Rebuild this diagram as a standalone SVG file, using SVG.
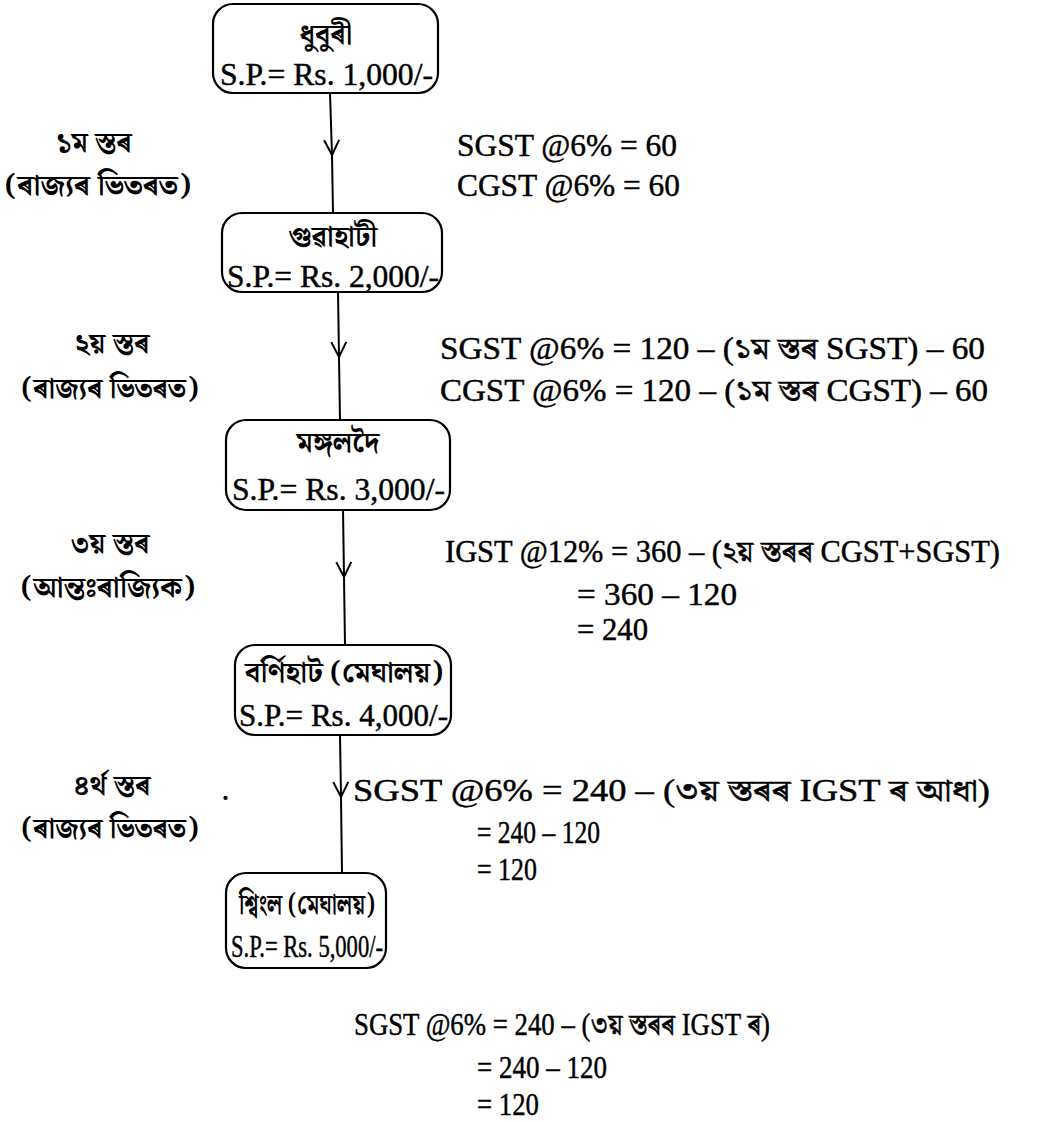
<svg xmlns="http://www.w3.org/2000/svg" width="1038" height="1122" viewBox="0 0 1038 1122">
<defs>
<style>
.bg{fill:#fff}
.box{fill:none;stroke:#000;stroke-width:2.2}
.con{fill:none;stroke:#000;stroke-width:2}
.t{font-family:"Liberation Serif","Noto Serif Bengali","Noto Sans Bengali","Lohit Assamese","Lohit Bengali","FreeSerif",serif;font-size:31px;fill:#000;stroke:#000;stroke-width:0.45}
.c{text-anchor:middle}
.bn{font-family:"Noto Serif Bengali","Noto Sans Bengali","Lohit Assamese","Lohit Bengali","FreeSerif","Liberation Serif",serif;font-size:28px;font-weight:bold;fill:#000}
.nb{font-size:28px}
</style>
<marker id="v" markerWidth="20" markerHeight="20" refX="0" refY="0" orient="auto" markerUnits="userSpaceOnUse" viewBox="-16 -10 20 20" overflow="visible">
<path d="M-15,-7.5 L0,0 L-15,7.5" fill="none" stroke="#000" stroke-width="2"/>
</marker>
</defs>
<rect class="bg" x="0" y="0" width="1038" height="1122"/>
<g id="connectors">
<path class="con" d="M330,93 L332,155 L333,213" marker-mid="url(#v)"/>
<path class="con" d="M338,292 L339,357 L340,420" marker-mid="url(#v)"/>
<path class="con" d="M343,510 L344,577 L345,645" marker-mid="url(#v)"/>
<path class="con" d="M340,735 L341,797 L342,873" marker-mid="url(#v)"/>
</g>
<g id="node1">
<rect class="box" x="213" y="4" width="225" height="89" rx="20"/>
<text class="bn nb c" x="326" y="44">ধুবুৰী</text>
<text class="t" x="220" y="85" textLength="213" lengthAdjust="spacingAndGlyphs">S.P.= Rs. 1,000/-</text>
</g>
<g id="node2">
<rect class="box" x="222" y="213" width="220" height="79" rx="20"/>
<text class="bn nb c" x="333" y="246">গুৱাহাটী</text>
<text class="t" x="227" y="287" textLength="212" lengthAdjust="spacingAndGlyphs">S.P.= Rs. 2,000/-</text>
</g>
<g id="node3">
<rect class="box" x="226" y="420" width="224" height="90" rx="20"/>
<text class="bn nb c" x="338" y="452">মঙ্গলদৈ</text>
<text class="t" x="232" y="500" textLength="213" lengthAdjust="spacingAndGlyphs">S.P.= Rs. 3,000/-</text>
</g>
<g id="node4">
<rect class="box" x="235" y="645" width="216" height="90" rx="20"/>
<text class="bn nb c" x="344" y="682" textLength="198" lengthAdjust="spacingAndGlyphs">বর্ণিহাট (মেঘালয়)</text>
<text class="t" x="239" y="726" textLength="209" lengthAdjust="spacingAndGlyphs">S.P.= Rs. 4,000/-</text>
</g>
<g id="node5">
<rect class="box" x="226" y="873" width="160" height="95" rx="20"/>
<text class="bn nb c" x="307" y="914" textLength="136" lengthAdjust="spacingAndGlyphs">শ্বিংল (মেঘালয়)</text>
<text class="t" x="231" y="957" textLength="152" lengthAdjust="spacingAndGlyphs">S.P.= Rs. 5,000/-</text>
</g>
<g id="labels">
<text class="bn c" x="94" y="152">১ম স্তৰ</text>
<text class="bn c" x="98" y="195" textLength="186" lengthAdjust="spacingAndGlyphs">(ৰাজ্যৰ ভিতৰত)</text>
<text class="bn c" x="112" y="353">২য় স্তৰ</text>
<text class="bn c" x="110" y="398" textLength="177" lengthAdjust="spacingAndGlyphs">(ৰাজ্যৰ ভিতৰত)</text>
<text class="bn c" x="110" y="553">৩য় স্তৰ</text>
<text class="bn c" x="108" y="597" textLength="174" lengthAdjust="spacingAndGlyphs">(আন্তঃৰাজ্যিক)</text>
<text class="bn c" x="112" y="795">৪র্থ স্তৰ</text>
<text class="bn" x="220" y="800" font-size="16">.</text>
<text class="bn c" x="110" y="838" textLength="177" lengthAdjust="spacingAndGlyphs">(ৰাজ্যৰ ভিতৰত)</text>
<text class="t" x="457" y="156" textLength="220" lengthAdjust="spacingAndGlyphs">SGST @6% = 60</text>
<text class="t" x="457" y="196" textLength="223" lengthAdjust="spacingAndGlyphs">CGST @6% = 60</text>
<text class="t" x="440" y="359" textLength="545" lengthAdjust="spacingAndGlyphs">SGST @6% = 120 – (১ম স্তৰ SGST) – 60</text>
<text class="t" x="440" y="401" textLength="548" lengthAdjust="spacingAndGlyphs">CGST @6% = 120 – (১ম স্তৰ CGST) – 60</text>
<text class="t" x="445" y="562" textLength="555" lengthAdjust="spacingAndGlyphs">IGST @12% = 360 – (২য় স্তৰৰ CGST+SGST)</text>
<text class="t" x="577" y="605" textLength="160" lengthAdjust="spacingAndGlyphs">= 360 – 120</text>
<text class="t" x="577" y="640" textLength="71" lengthAdjust="spacingAndGlyphs">= 240</text>
<text class="t" x="353" y="801" font-size="33" textLength="637" lengthAdjust="spacingAndGlyphs">SGST @6% = 240 – (৩য় স্তৰৰ IGST ৰ আধা)</text>
<text class="t" x="477" y="843" textLength="123" lengthAdjust="spacingAndGlyphs">= 240 – 120</text>
<text class="t" x="477" y="880" textLength="60" lengthAdjust="spacingAndGlyphs">= 120</text>
<text class="t" x="354" y="1035" textLength="416" lengthAdjust="spacingAndGlyphs">SGST @6% = 240 – (৩য় স্তৰৰ IGST ৰ)</text>
<text class="t" x="477" y="1078" textLength="130" lengthAdjust="spacingAndGlyphs">= 240 – 120</text>
<text class="t" x="477" y="1115" textLength="62" lengthAdjust="spacingAndGlyphs">= 120</text>
</g>
</svg>
